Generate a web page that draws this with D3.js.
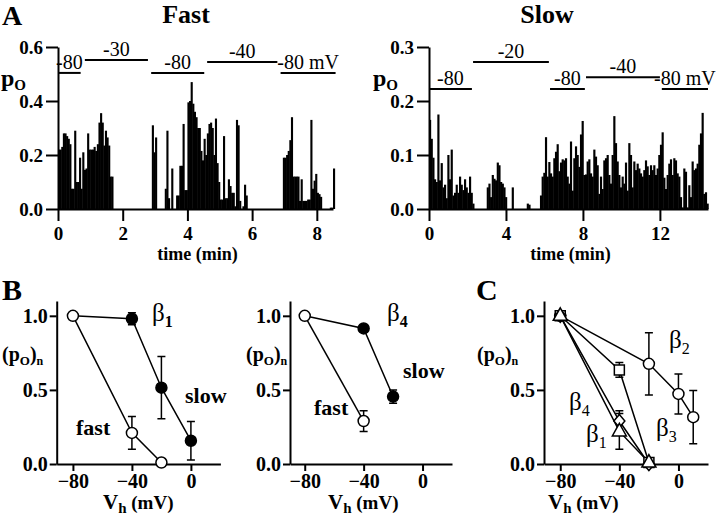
<!DOCTYPE html>
<html><head><meta charset="utf-8">
<script src="https://cdn.jsdelivr.net/npm/d3@7"></script>
<style>
body{margin:0;background:#fff}
svg{display:block}
text{font-family:"Liberation Serif","Times New Roman",serif;fill:#000}
</style></head>
<body><svg id="c" width="720" height="517"></svg>
<script>
// ===================== DATA =====================
// Panel A, fast inactivation: open probability per time bin (min)
const fastBinMin = 0.05;
const fastRunStarts = [0, 2.90, 6.95];
const fastRun1 = [0.22,0.22,0.23,0.28,0.28,0.27,0.26,0.24,0.075,0.075,0.29,0.10,0.10,0.19,0.075,0.21,0.145,0.15,0.28,0.22,0.22,0.22,0.23,0.215,0.24,0.32,0.355,0.32,0.235,0.29,0.265,0.235,0.12,0.12];
const fastRun2 = [0.31,0.21,0.265,0,0,0,0,0,0.075,0.29,0.04,0,0.15,0,0,0.05,0.05,0.16,0.16,0.315,0.07,0.07,0.395,0.40,0.47,0.39,0.36,0.34,0.30,0.30,
                  0.215,0.18,0.26,0.20,0.28,0.315,0.32,0.30,0.20,0.335,0.17,0.10,0.035,0.035,0.27,0.04,0.04,0.11,0.085,0.06,0.06,0.01,0.33,0.31,0.03,0,0.01,0.09,0.05];
const fastRun3 = [0.19,0.19,0.20,0.215,0.255,0.34,0.12,0.12,0.12,0.12,0.03,0.11,0.03,0.03,0.03,0.035,0.035,0.33,0.075,0.105,0.13,0.06,0.055,0.045,0,0,0,0,0,0.005,0.005,0.15];
const fastTicksX = [0,2,4,6,8];
const fastTicksY = [0,0.2,0.4,0.6];
// holding-potential protocol [start min, end min, mV, label]
const fastProtocol = [[0,0.7,-80,"-80"],[0.83,2.78,-30,"-30"],[2.88,4.52,-80,"-80"],[4.61,6.78,-40,"-40"],[6.88,8.58,-80,"-80 mV"]];

// Panel A, slow inactivation
const slowBinMin = 0.0866;
const slowRunStarts = [0, 3.0, 5.08, 5.766];
const slowRun1 = [0.165,0.13,0.095,0.055,0.05,0.175,0.053,0.085,0.04,0.045,0.02,0.10,0.055,0.11,0.025,0.03,0.045,0.03,0.06,0.045,0.035,0.055,0.04,0.03,0.06,0.03,0.01];
const slowRun2 = [0.04,0.047,0.022,0.063,0.056,0.053,0.086,0.081,0.05,0.047,0.04,0.022,0,0,0,0.04];
const slowRun3 = [0.01,0.008];
const slowRun4 = [0.025,0.06,0.067,0.133,0.06,0.087,0.066,0.06,0.094,0.106,0.12,0.07,0.086,0.092,0.09,
  0.094,0.06,0.047,0.125,0.034,0.094,0.116,0.10,0.078,0.138,0.163,0.063,0.064,0.088,0.092,0.066,0.06,0.11,0.097,0.081,
  0.028,0.06,0.037,0.09,0.094,0.10,0.063,0.047,0.10,0.172,0.122,0.088,0.063,0.04,0.06,0.047,0.086,0.034,0.122,0.10,
  0.04,0.088,0.072,0.084,0.075,0.066,0.06,0.072,0.09,0.079,0.063,0.081,0.072,0.081,0.063,0.075,0.10,0.119,0.142,0.058,
  0.037,0.063,0.084,0.092,0.063,0.094,0.09,0.066,0.06,0.022,0.003,0.075,0.069,0.003,0.044,0.022,0.088,0.072,0.075,0.084,
  0.119,0.14,0.178,0.028,0.031,0.01];
const slowTicksX = [0,4,8,12];
const slowTicksY = [0,0.1,0.2,0.3];
const slowProtocol = [[0,2.23,-80,"-80"],[2.29,6.23,-20,"-20"],[6.29,8.1,-80,"-80"],[8.16,12.0,-40,"-40"],[12.1,14.5,-80,"-80 mV"]];

// Panels B and C: normalized open probability vs holding potential [mV, mean, sem]
const vhTicks = [-80,-40,0];
const poTicks = [0,0.5,1.0];
const b1Fast = [[-80,1.0,0],[-40,0.21,0.11],[-20,0.01,0]];
const b1Slow = [[-40,0.98,0.04],[-20,0.515,0.21],[0,0.157,0.13]];
const b4Fast = [[-80,1.0,0],[-40,0.29,0.07]];
const b4Slow = [[-40,0.915,0.02],[-20,0.455,0.045]];
const cBeta2 = [[-80,1.0,0],[-20,0.676,0.21],[0,0.473,0.135],[10,0.316,0.18]];
const cBeta3 = [[-80,1.0,0],[-40,0.635,0.05],[-20,0.01,0]];
const cBeta4 = [[-80,1.0,0],[-40,0.29,0.07],[-20,0.0,0]];
const cBeta1 = [[-80,1.0,0],[-40,0.22,0.12],[-20,0.01,0]];

// ===================== DRAWING =====================
const svg = d3.select("#c");
const SERIF = '"Liberation Serif","Times New Roman",serif';

function styleAxis(g, fs){
  g.attr("font-family", SERIF);
  g.select(".domain").attr("stroke","#000").attr("stroke-width",2);
  g.selectAll(".tick line").attr("stroke","#000").attr("stroke-width",2);
  g.selectAll(".tick text").attr("font-size",fs).attr("font-weight","bold").attr("fill","#000");
}

// ---------- Panel A ----------
function panelA(cfg){
  const x = d3.scaleLinear().domain(cfg.xDom).range(cfg.xRange);
  const y = d3.scaleLinear().domain(cfg.yDom).range([209,47]);
  const g = svg.append("g");
  // bars
  const bars = [];
  cfg.runs.forEach((run,k)=>{
    run.forEach((v,i)=>{ if(v>0) bars.push({t: cfg.starts[k] + i*cfg.bin, v}); });
  });
  g.selectAll("rect.bar").data(bars).join("rect")
    .attr("x", d=>x(d.t))
    .attr("width", d=>x(d.t+cfg.bin)-x(d.t)+0.5)
    .attr("y", d=>y(d.v))
    .attr("height", d=>y(0)-y(d.v))
    .attr("fill","#000");
  // axes
  const ax = g.append("g").attr("transform","translate(0,209)")
    .call(d3.axisBottom(x).tickValues(cfg.ticksX).tickSize(12).tickSizeOuter(0).tickPadding(6).tickFormat(d3.format("d")));
  styleAxis(ax, 19);
  const ay = g.append("g").attr("transform",`translate(${cfg.xRange[0]},0)`)
    .call(d3.axisLeft(y).tickValues(cfg.ticksY).tickSize(12).tickSizeOuter(0).tickPadding(3).tickFormat(d3.format(".1f")));
  styleAxis(ay, 19);
  // protocol
  cfg.protocol.forEach(p=>{
    const yy = y(cfg.level[p[2]]);
    g.append("line").attr("x1",x(p[0])).attr("x2",x(p[1])).attr("y1",yy).attr("y2",yy)
      .attr("stroke","#000").attr("stroke-width",2);
    g.append("text").attr("x",(x(p[0])+x(p[1]))/2).attr("y",yy-4)
      .attr("text-anchor","middle").attr("font-size",20).text(p[3]);
  });
  // labels
  const pl = g.append("text").attr("x",cfg.pX).attr("y",86).attr("font-weight","bold");
  pl.append("tspan").attr("font-size",24).text("p");
  pl.append("tspan").attr("font-size",15).attr("dy",4).text("O");
  g.append("text").attr("x",(cfg.xRange[0]+cfg.xRange[1])/2+2).attr("y",260)
    .attr("text-anchor","middle").attr("font-size",18).attr("font-weight","bold").text("time (min)");
  g.append("text").attr("x",cfg.titleX).attr("y",23).attr("text-anchor","middle")
    .attr("font-size",26).attr("font-weight","bold").text(cfg.title);
}

panelA({xDom:[0,8.5], xRange:[58,333], yDom:[0,0.6], bin:fastBinMin,
  starts:fastRunStarts, runs:[fastRun1,fastRun2,fastRun3], ticksX:fastTicksX, ticksY:fastTicksY,
  protocol:fastProtocol, level:{"-80":0.504,"-30":0.552,"-40":0.544}, pX:1, title:"Fast", titleX:186});
panelA({xDom:[0,14.5], xRange:[429,708], yDom:[0,0.3], bin:slowBinMin,
  starts:slowRunStarts, runs:[slowRun1,slowRun2,slowRun3,slowRun4], ticksX:slowTicksX, ticksY:slowTicksY,
  protocol:slowProtocol, level:{"-80":0.222,"-20":0.272,"-40":0.244}, pX:373, title:"Slow", titleX:547});

// ---------- Panels B / C ----------
const markers = {
  circle:  "M5.5,0A5.5,5.5 0 1,1 -5.5,0A5.5,5.5 0 1,1 5.5,0Z",
  square:  "M-5,-5H5V5H-5Z",
  diamond: "M0,-6.5L5.5,0L0,6.5L-5.5,0Z",
  triangle:"M0,-8L7,4.5L-7,4.5Z"
};
function vPanel(cfg){
  const x = d3.scaleLinear().domain(cfg.xDom).range(cfg.xRange);
  const y = d3.scaleLinear().domain([0,1.1]).range([464,301]);
  const g = svg.append("g");
  const ax = g.append("g").attr("transform","translate(0,464)")
    .call(d3.axisBottom(x).tickValues(vhTicks).tickSize(7).tickSizeOuter(0).tickPadding(3).tickFormat(d3.format("d")));
  styleAxis(ax, 20);
  const ay = g.append("g").attr("transform",`translate(${cfg.xRange[0]},0)`)
    .call(d3.axisLeft(y).tickValues(poTicks).tickSize(7).tickSizeOuter(0).tickPadding(2).tickFormat(d3.format(".1f")));
  styleAxis(ay, 20);
  const line = d3.line().x(d=>x(d[0])).y(d=>y(d[1]));
  cfg.series.forEach(s=>{
    g.append("path").attr("d", line(s.lineData)).attr("fill","none").attr("stroke","#000").attr("stroke-width",1.5);
  });
  cfg.series.forEach(s=>{
    s.data.filter(d=>d[2]>0).forEach(d=>{
      const x0=x(d[0]), y1=y(d[1]+d[2]), y2=y(d[1]-d[2]);
      g.append("path").attr("d",`M${x0},${y1}V${y2}M${x0-4},${y1}H${x0+4}M${x0-4},${y2}H${x0+4}`)
        .attr("stroke","#000").attr("stroke-width",1.5).attr("fill","none");
    });
  });
  cfg.series.forEach(s=>{
    g.selectAll(null).data(s.data).join("path")
      .attr("d", markers[s.shape])
      .attr("transform", d=>`translate(${x(d[0])},${y(d[1])})`)
      .attr("fill", s.filled ? "#000" : "#fff").attr("stroke","#000").attr("stroke-width",1.5);
  });
  // y label (pO)n
  const yl = g.append("text").attr("x",cfg.yLabX).attr("y",361).attr("font-weight","bold");
  yl.append("tspan").attr("font-size",20).text("(p");
  yl.append("tspan").attr("font-size",13).attr("dy",4).text("O");
  yl.append("tspan").attr("font-size",20).attr("dy",-4).text(")");
  yl.append("tspan").attr("font-size",12).attr("dy",4).text("n");
  // x label Vh (mV)
  const xl = g.append("text").attr("x",cfg.xLabX).attr("y",509).attr("font-weight","bold");
  xl.append("tspan").attr("font-size",21).text("V");
  xl.append("tspan").attr("font-size",15).attr("dy",4).text("h");
  xl.append("tspan").attr("font-size",19).attr("dy",-4).text(" (mV)");
  // annotations
  cfg.notes.forEach(n=>{
    if(n.beta){
      const t = g.append("text").attr("x",n.x).attr("y",n.y);
      t.append("tspan").attr("font-size",25).text("β");
      t.append("tspan").attr("font-size",16).attr("dy",6).attr("font-weight",n.bold?"bold":"normal").text(n.sub);
    } else {
      g.append("text").attr("x",n.x).attr("y",n.y).attr("font-size",22).attr("font-weight","bold").text(n.text);
    }
  });
}

vPanel({xDom:[-91,20], xRange:[56.7,220.4], yLabX:2, xLabX:103,
  series:[
    {data:b1Fast, lineData:b1Fast, shape:"circle", filled:false},
    {data:b1Slow, lineData:[b1Fast[0]].concat(b1Slow), shape:"circle", filled:true}
  ],
  notes:[{beta:true,x:152,y:321,sub:"1",bold:true},{text:"slow",x:185,y:403},{text:"fast",x:76,y:435}]
});
vPanel({xDom:[-90,20], xRange:[290,452], yLabX:246, xLabX:328,
  series:[
    {data:b4Fast, lineData:b4Fast, shape:"circle", filled:false},
    {data:b4Slow, lineData:[b4Fast[0]].concat(b4Slow), shape:"circle", filled:true}
  ],
  notes:[{beta:true,x:387,y:321,sub:"4",bold:true},{text:"slow",x:403,y:378},{text:"fast",x:314,y:415}]
});
vPanel({xDom:[-91,20], xRange:[544,708], yLabX:477, xLabX:548,
  series:[
    {data:cBeta2, lineData:cBeta2, shape:"circle", filled:false},
    {data:cBeta3, lineData:cBeta3, shape:"square", filled:false},
    {data:cBeta4, lineData:cBeta4, shape:"diamond", filled:false},
    {data:cBeta1, lineData:cBeta1, shape:"triangle", filled:false}
  ],
  notes:[{beta:true,x:669,y:348,sub:"2"},{beta:true,x:569,y:410,sub:"4"},{beta:true,x:586,y:442,sub:"1"},{beta:true,x:656,y:436,sub:"3"}]
});

// panel letters
[["A",2,25,28],["B",2,300,30],["C",476,300,30]].forEach(l=>{
  svg.append("text").attr("x",l[1]).attr("y",l[2]).attr("font-size",l[3]).attr("font-weight","bold").text(l[0]);
});
</script>
</body></html>
